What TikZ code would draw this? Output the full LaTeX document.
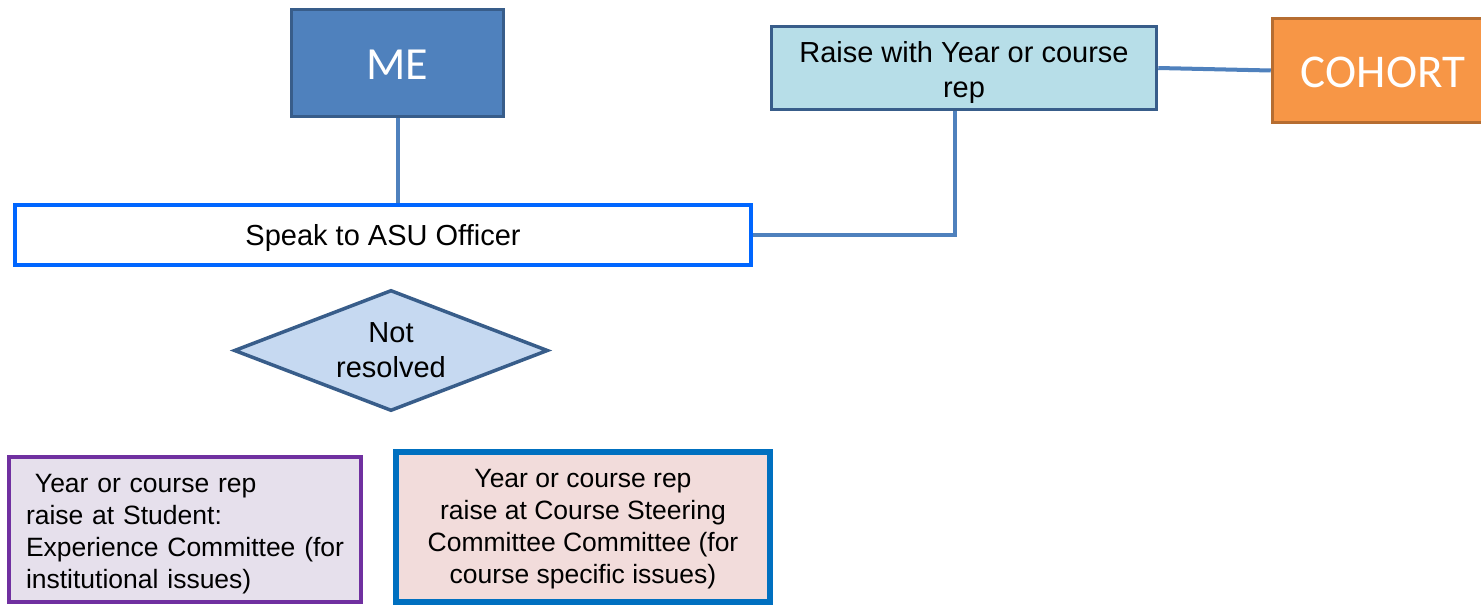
\documentclass[tikz,border=0pt]{standalone}
\usepackage{fontspec}
\setmainfont{Liberation Sans}
\newfontfamily\calfont{Carlito}
\usetikzlibrary{shapes.geometric}
\definecolor{meFill}{HTML}{4F81BD}
\definecolor{darkEdge}{HTML}{385D8A}
\definecolor{linkCol}{HTML}{4F81BD}
\definecolor{speakEdge}{HTML}{0066FF}
\definecolor{raiseFill}{HTML}{B7DEE8}
\definecolor{cohFill}{HTML}{F79646}
\definecolor{cohEdge}{HTML}{B66D31}
\definecolor{diaFill}{HTML}{C6D9F1}
\definecolor{purFill}{HTML}{E6E0EC}
\definecolor{purEdge}{HTML}{7030A0}
\definecolor{pinkFill}{HTML}{F2DCDB}
\definecolor{blueEdge}{HTML}{0070C0}
\newcommand{\dnc}[2]{\raisebox{#1}[\height][\depth]{\begin{tabular}{@{}c@{}}#2\end{tabular}}}
\newcommand{\dnl}[2]{\raisebox{#1}[\height][\depth]{\begin{tabular}{@{}l@{}}#2\end{tabular}}}
\tikzset{
  boxbase/.style={rectangle, inner sep=0pt, align=center},
  bigtitle/.style={boxbase, text=white, font=\calfont\fontsize{46}{50}\selectfont, line width=3.5pt},
  bodytext/.style={font=\fontsize{29}{35}\selectfont},
  smalltext/.style={font=\fontsize{26.5}{32}\selectfont},
  link/.style={draw=linkCol, line width=4pt}
}
\begin{document}
\begin{tikzpicture}[x=1pt,y=-1pt]
\clip (0,0) rectangle (1481,605);
\useasboundingbox (0,0) rectangle (1481,605);
\fill[white] (0,0) rectangle (1481,605);

\node[bigtitle, draw=darkEdge, fill=meFill, minimum width=212pt, minimum height=107pt] (me) at (397.5,63) {\raisebox{-2pt}[\height][\depth]{ME}};
\node[boxbase, bodytext, draw=speakEdge, line width=4.5pt, fill=white, minimum width=736pt, minimum height=60pt] (speak) at (383,235) {\dnc{-3.5pt}{Speak to ASU Officer}};
\node[boxbase, bodytext, draw=darkEdge, line width=3.5pt, fill=raiseFill, minimum width=385pt, minimum height=83pt] (raise) at (964,68) {\dnc{-5pt}{Raise with Year or course\\rep}};
\node[bigtitle, font=\calfont\fontsize{47}{50}\selectfont, draw=cohEdge, fill=cohFill, minimum width=221pt, minimum height=104pt] (cohort) at (1383,70.5) {\raisebox{-2pt}[\height][\depth]{COHORT}};
\node[diamond, bodytext, draw=darkEdge, line width=3.5pt, fill=diaFill, inner sep=0pt, aspect=2.6, minimum width=314pt, minimum height=121pt, align=center] (notres) at (391,350.5) {\dnc{-2pt}{Not\\resolved}};
\node[boxbase, smalltext, draw=purEdge, line width=4pt, fill=purFill, minimum width=352pt, minimum height=145pt, text width=318pt, align=left] (student) at (185,529.5) {\dnl{-5pt}{\hspace*{9pt}Year or course rep\\raise at Student:\\Experience Committee (for\\institutional issues)}};
\node[boxbase, smalltext, draw=blueEdge, line width=6pt, fill=pinkFill, minimum width=374pt, minimum height=150pt] (steer) at (583,527) {\dnc{-2pt}{Year or course rep\\raise at Course Steering\\Committee Committee (for\\course specific issues)}};

\draw[link] (me.south) -- (me.south |- speak.north);
\draw[link] ([xshift=-9pt]raise.south) |- (speak.east);
\draw[link] (raise.east) -- (cohort.west);
\end{tikzpicture}
\end{document}
